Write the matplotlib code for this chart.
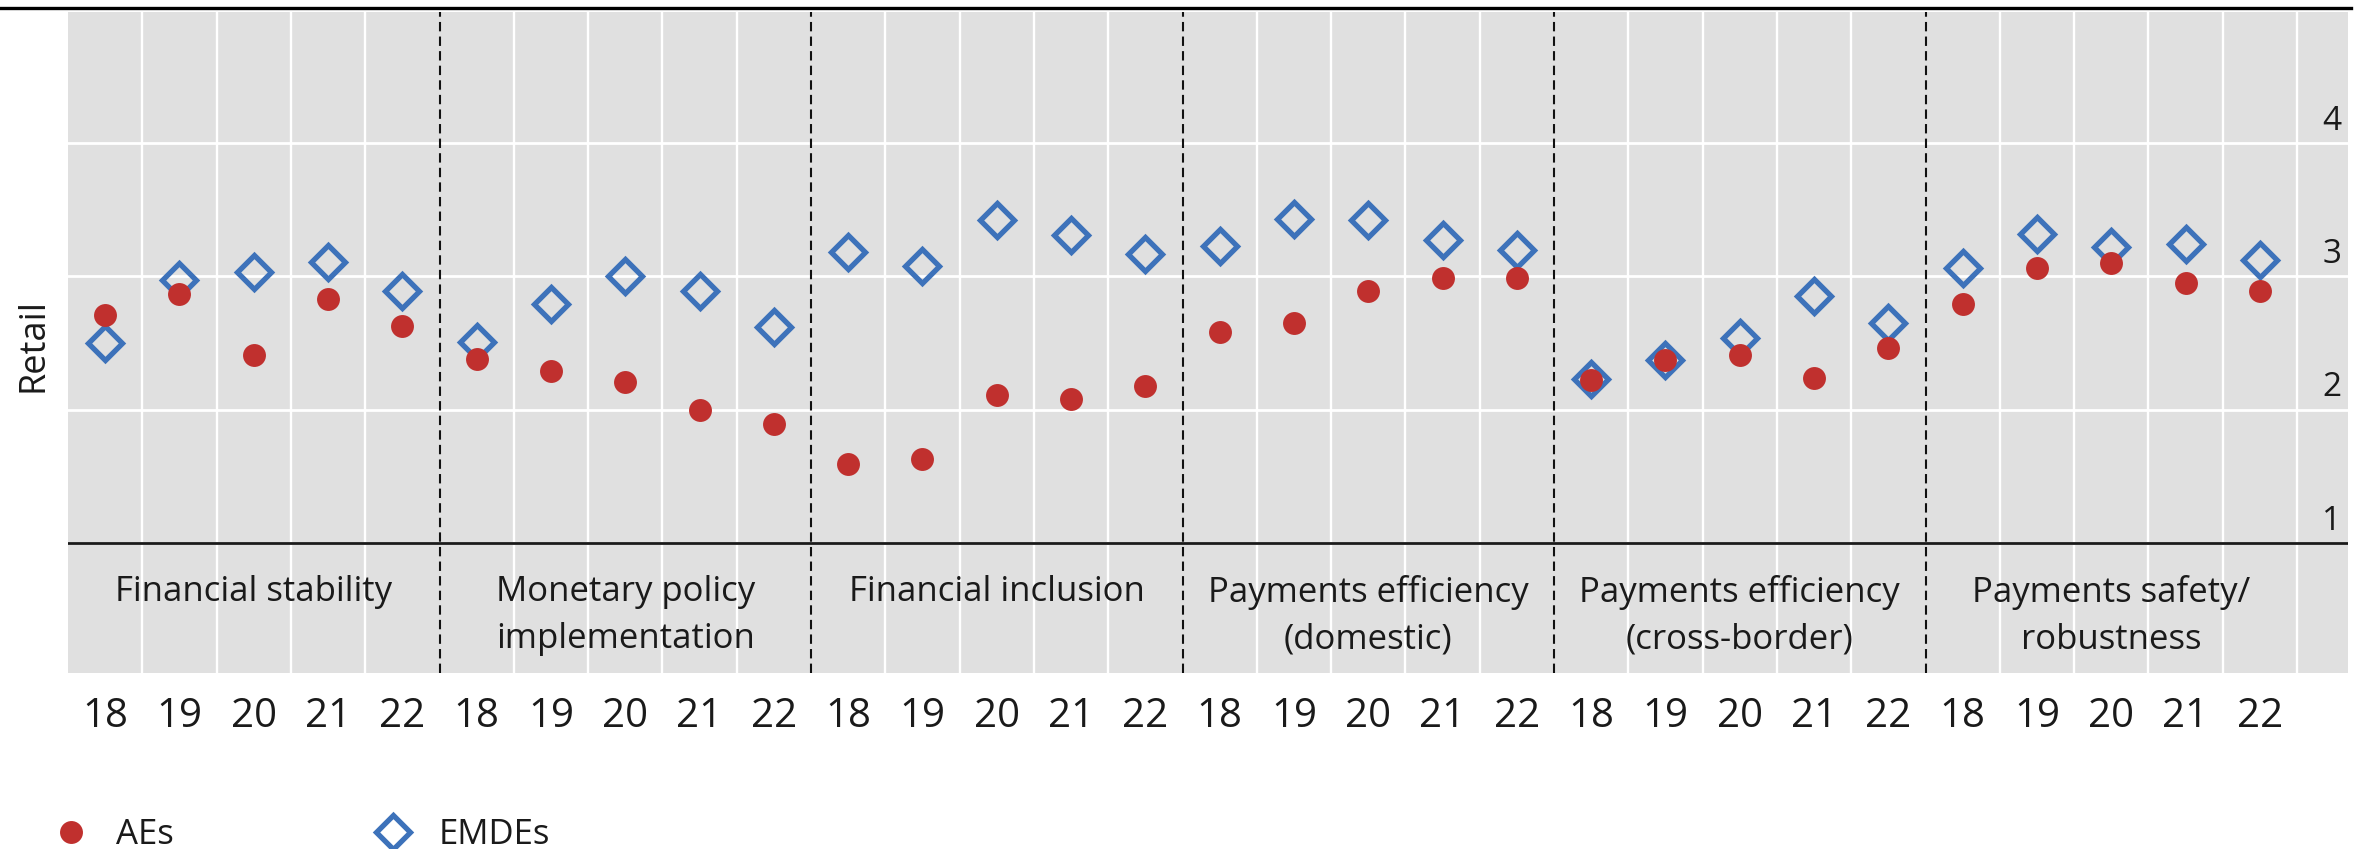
import matplotlib
matplotlib.use("Agg")
import matplotlib.pyplot as plt
from matplotlib.lines import Line2D

plt.rcParams['font.family'] = ['Open Sans', 'DejaVu Sans']

# categories and years
categories = ["Financial stability", "Monetary policy\nimplementation", "Financial inclusion",
              "Payments efficiency\n(domestic)", "Payments efficiency\n(cross-border)",
              "Payments safety/\nrobustness"]
years = ["18", "19", "20", "21", "22"]

# scores, 5 years per category
ae = [2.71, 2.87, 2.41, 2.83, 2.63,
      2.38, 2.29, 2.21, 2.00, 1.89,
      1.59, 1.63, 2.11, 2.08, 2.18,
      2.58, 2.65, 2.89, 2.99, 2.99,
      2.22, 2.37, 2.41, 2.24, 2.46,
      2.79, 3.06, 3.10, 2.95, 2.89]
emde = [2.50, 2.97, 3.03, 3.11, 2.89,
        2.51, 2.79, 3.00, 2.89, 2.62,
        3.18, 3.08, 3.42, 3.31, 3.17,
        3.23, 3.43, 3.42, 3.27, 3.20,
        2.23, 2.37, 2.54, 2.85, 2.65,
        3.06, 3.32, 3.22, 3.24, 3.12]
y_ticks = [1, 2, 3, 4]

RED = "#C0302E"
BLUE = "#3D72BA"
GREY = "#E0E0E0"

n_years = len(years)
n_cols = len(categories) * n_years
xpos = list(range(n_cols))

W, H = 2361, 849
fig = plt.figure(figsize=(W / 100, H / 100), dpi=100)
ax = fig.add_axes([68 / W, 1 - 673 / H, (2348 - 68) / W, (673 - 12) / H])
ax.set_facecolor(GREY)
for s in ax.spines.values():
    s.set_visible(False)

ax.set_xlim(-0.5, -0.5 + 2280 / 74.3)
ax.set_ylim(1 - 130 / 133.3, 1 + 531 / 133.3)

# white column boundaries, dashed black between categories
minor = [k + 0.5 for k in range(n_cols) if (k + 1) % n_years != 0] + [n_cols - 0.5]
ax.set_xticks(minor, minor=True)
ax.xaxis.grid(True, which='minor', color='white', lw=1.7)
ax.set_yticks(y_ticks)
ax.yaxis.grid(True, which='major', color='white', lw=2.0)
ax.set_axisbelow(True)
for g in range(1, len(categories)):
    ax.axvline(g * n_years - 0.5, color='#111111', lw=1.5, ls=(0, (4.5, 2.5)), zorder=2)
ax.axhline(1, color='#1a1a1a', lw=2.0, zorder=2)

# data
ax.plot(xpos, emde, ls='none', marker='D', ms=17, mfc='none', mec=BLUE, mew=3.8,
        zorder=3, label='EMDEs')
ax.plot(xpos, ae, ls='none', marker='o', ms=16.5, mfc=RED, mec=RED, mew=0,
        zorder=4, label='AEs')

# year labels under the axis
ax.set_xticks(xpos, labels=years * len(categories))
ax.tick_params(axis='x', which='both', length=0, pad=17, labelsize=29, labelcolor='#1a1a1a')
ax.tick_params(axis='y', which='both', length=0, labelleft=False, labelright=False)

# right-hand scale labels sit just above each gridline
for v in y_ticks:
    ax.text(0.997, v + 0.1, str(v), transform=ax.get_yaxis_transform(),
            ha='right', va='baseline', fontsize=24, color='#1a1a1a')

# category labels in the band below the axis
for i, name in enumerate(categories):
    ax.text(i * n_years + (n_years - 1) / 2, 0.76, name, ha='center', va='top',
            fontsize=25, color='#1a1a1a', linespacing=1.5)

fig.text(33 / W, 1 - 345 / H, "Retail", rotation=90, ha='center', va='center',
         fontsize=26, color='#1a1a1a')

# top rule
fig.add_artist(Line2D([0, 2351 / W], [1 - 7.5 / H] * 2, color='black', lw=2.4))

handles, labels = ax.get_legend_handles_labels()
fig.legend(handles[::-1], labels[::-1], loc='center left', bbox_to_anchor=(54 / W, 14 / H),
           ncol=2, frameon=False, fontsize=25, handlelength=1.0, handletextpad=0.8,
           columnspacing=5.8, borderpad=0, borderaxespad=0, labelcolor='#1a1a1a')

fig.savefig("out.png", dpi=100)
